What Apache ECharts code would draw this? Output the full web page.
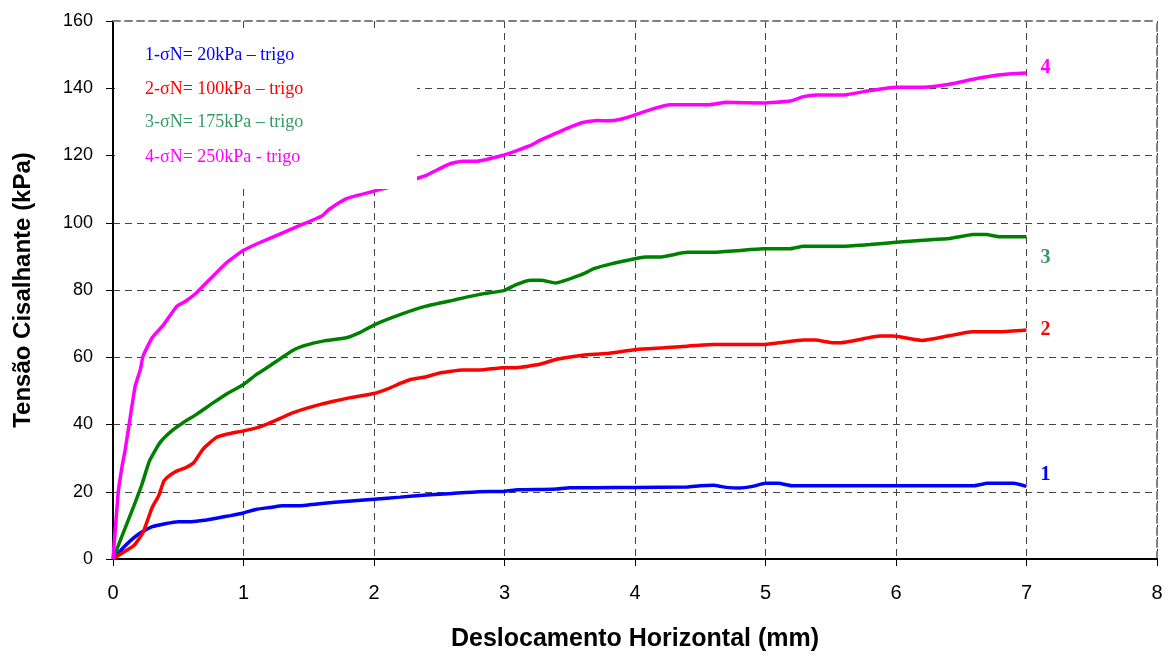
<!DOCTYPE html>
<html>
<head>
<meta charset="utf-8">
<script src="https://cdn.jsdelivr.net/npm/echarts@6/dist/echarts.min.js"></script>
<style>
  html, body { margin: 0; padding: 0; background: #fff; }
  #chart { width: 1168px; height: 657px; }
</style>
</head>
<body>
<div id="chart"></div>
<script>
// Displacement (mm) and shear stress (kPa) for each normal stress level
const s1X = [0, 0.1, 0.2, 0.3, 0.4, 0.5, 0.6, 0.7, 0.8, 0.9, 1.0, 1.1, 1.2, 1.3, 1.4, 1.5, 1.6, 1.8, 2.0, 2.2, 2.4, 2.6, 2.8, 3.0, 3.1, 3.3, 3.4, 3.5, 3.7, 4.0, 4.4, 4.5, 4.6, 4.7, 4.8, 4.9, 5.0, 5.1, 5.2, 5.4, 6.0, 6.6, 6.7, 6.9, 7.0];
const s1Y = [0, 4.2, 7.5, 9.6, 10.5, 11.1, 11.1, 11.5, 12.2, 12.9, 13.7, 14.8, 15.3, 15.8, 15.8, 16.1, 16.5, 17.2, 17.8, 18.4, 19.0, 19.5, 20.0, 20.1, 20.6, 20.7, 20.8, 21.2, 21.2, 21.3, 21.4, 21.8, 21.9, 21.3, 21.1, 21.6, 22.5, 22.5, 21.8, 21.8, 21.8, 21.8, 22.5, 22.5, 21.6];

const s2X = [0, 0.08, 0.16, 0.23, 0.30, 0.35, 0.39, 0.44, 0.49, 0.56, 0.62, 0.69, 0.79, 0.87, 1.0, 1.1, 1.18, 1.28, 1.38, 1.48, 1.59, 1.7, 1.82, 2.0, 2.1, 2.2, 2.28, 2.4, 2.51, 2.68, 2.81, 2.99, 3.09, 3.27, 3.4, 3.6, 3.78, 4.01, 4.22, 4.4, 4.6, 4.98, 5.1, 5.29, 5.38, 5.52, 5.57, 5.88, 5.98, 6.2, 6.59, 6.8, 7.0];
const s2Y = [0, 2, 4, 7.9, 15.3, 18.8, 23.2, 25.0, 26.2, 27.2, 28.7, 32.7, 36.1, 37.1, 38.1, 39.0, 40.1, 41.8, 43.5, 44.8, 46, 47, 48, 49.2, 50.5, 52.2, 53.4, 54.2, 55.4, 56.2, 56.2, 56.9, 56.9, 57.9, 59.4, 60.6, 61.1, 62.3, 62.8, 63.3, 63.8, 63.8, 64.3, 65.1, 65.1, 64.3, 64.3, 66.3, 66.3, 65.0, 67.6, 67.6, 68.1];

const s3X = [0, 0.08, 0.16, 0.22, 0.28, 0.36, 0.45, 0.54, 0.64, 0.77, 0.88, 1.0, 1.1, 1.2, 1.38, 1.48, 1.61, 1.79, 1.89, 2.01, 2.2, 2.4, 2.61, 2.81, 3.0, 3.09, 3.2, 3.28, 3.39, 3.59, 3.69, 3.81, 3.99, 4.08, 4.19, 4.4, 4.6, 4.78, 4.98, 5.19, 5.29, 5.6, 5.8, 6.0, 6.21, 6.41, 6.59, 6.69, 6.8, 7.0];
const s3Y = [0, 7.9, 15.8, 22, 29.2, 34.6, 38.1, 40.6, 43, 46.5, 49.3, 51.9, 54.9, 57.4, 62.1, 63.6, 64.8, 65.8, 67.3, 69.8, 72.7, 75.2, 77.0, 78.7, 79.9, 81.6, 82.9, 82.9, 82.1, 84.6, 86.4, 87.7, 89.2, 89.8, 89.8, 91.2, 91.2, 91.7, 92.3, 92.3, 93.0, 93.0, 93.5, 94.2, 94.8, 95.3, 96.5, 96.5, 95.8, 95.8];

const s4X = [0, 0.04, 0.07, 0.09, 0.13, 0.17, 0.21, 0.23, 0.3, 0.39, 0.49, 0.55, 0.64, 0.74, 0.87, 1.0, 1.13, 1.3, 1.45, 1.6, 1.66, 1.79, 1.99, 2.14, 2.3, 2.4, 2.58, 2.68, 2.79, 3.0, 3.09, 3.2, 3.27, 3.4, 3.48, 3.6, 3.71, 3.8, 3.89, 4.0, 4.13, 4.27, 4.57, 4.7, 4.98, 5.19, 5.29, 5.39, 5.6, 5.8, 6.0, 6.21, 6.41, 6.61, 6.8, 7.0];
const s4Y = [0, 19.8, 27.7, 31.7, 41.6, 51.4, 56.4, 60.3, 65.8, 69.8, 75.2, 76.5, 79.2, 83.1, 88.1, 91.8, 94.2, 97, 99.5, 102, 104.1, 107.2, 109.3, 110.8, 112.8, 114.1, 117.5, 118.3, 118.3, 120.2, 121.4, 123.0, 124.5, 126.7, 128.1, 129.8, 130.4, 130.3, 130.8, 132.1, 133.8, 135.1, 135.1, 135.8, 135.6, 136.2, 137.5, 138.0, 138.0, 139.3, 140.3, 140.3, 141.2, 142.8, 144.0, 144.5];

const seriesNames = ['1-σN= 20kPa – trigo', '2-σN= 100kPa – trigo', '3-σN= 175kPa – trigo', '4-σN= 250kPa - trigo'];
const endTags = ['1', '2', '3', '4'];
const xTitle = 'Deslocamento Horizontal (mm)';
const yTitle = 'Tensão Cisalhante (kPa)';

const lineColors = ['#0000ff', '#ff0000', '#008000', '#ff00ff'];
const textColors = ['#0000ff', '#ff0000', '#339966', '#ff00ff'];
const tagOffsets = [[0, -12], [0, 0], [0, 21], [0, -5]];

const xs = [s1X, s2X, s3X, s4X];
const ys = [s1Y, s2Y, s3Y, s4Y];

const gridDash = { color: '#444', width: 1, type: [7, 5] };
const frameDash = { color: '#808080', width: 2, type: [7, 5] };

const series = xs.map((xArr, i) => ({
  name: seriesNames[i],
  type: 'line',
  data: xArr.map((x, k) => [x, ys[i][k]]),
  showSymbol: false,
  symbol: 'none',
  smooth: 0.15,
  z: 2,
  lineStyle: { color: lineColors[i], width: 3.5 },
  endLabel: {
    show: true,
    formatter: endTags[i],
    distance: 14,
    offset: tagOffsets[i],
    color: textColors[i],
    fontFamily: 'Liberation Serif',
    fontWeight: 'bold',
    fontSize: 20
  }
}));

// legend panel: white box over the plot with coloured text lines
const legendTop = [56, 90, 123, 158];
const graphics = [{
  type: 'rect',
  z: 10,
  shape: { x: 115, y: 30, width: 302, height: 159 },
  style: { fill: '#fff' }
}].concat(seriesNames.map((name, i) => ({
  type: 'text',
  z: 11,
  left: 145,
  top: legendTop[i] - 10,
  style: {
    text: name,
    fill: textColors[i],
    fontFamily: 'Liberation Serif',
    fontSize: 18
  }
})));

const chart = echarts.init(document.getElementById('chart'));
chart.setOption({
  animation: false,
  backgroundColor: '#fff',
  grid: { left: 113, right: 11, top: 21, bottom: 97 },
  xAxis: [{
    type: 'value',
    min: 0, max: 8, interval: 1,
    name: xTitle,
    nameLocation: 'middle',
    nameGap: 68,
    nameTextStyle: { fontFamily: 'Liberation Sans', fontWeight: 'bold', fontSize: 25, color: '#000' },
    axisLine: { onZero: false, lineStyle: { color: '#000', width: 2 } },
    axisTick: { show: true, length: 7, lineStyle: { color: '#000', width: 1 } },
    axisLabel: { margin: 24, fontFamily: 'Liberation Sans Narrow, Liberation Sans', fontSize: 20, color: '#000' },
    splitLine: { show: true, lineStyle: gridDash }
  }, {
    type: 'value', position: 'top',
    min: 0, max: 8, interval: 1,
    axisLine: { show: true, onZero: false, lineStyle: frameDash },
    axisTick: { show: false }, axisLabel: { show: false }, splitLine: { show: false }
  }],
  yAxis: [{
    type: 'value',
    min: 0, max: 160, interval: 20,
    name: yTitle,
    nameLocation: 'middle',
    nameGap: 78,
    nameRotate: 90,
    nameTextStyle: { fontFamily: 'Liberation Sans', fontWeight: 'bold', fontSize: 24, color: '#000' },
    axisLine: { show: true, onZero: false, lineStyle: { color: '#000', width: 2 } },
    axisTick: { show: true, length: 7, lineStyle: { color: '#000', width: 1 } },
    axisLabel: { margin: 20, fontFamily: 'Liberation Sans', fontSize: 18, color: '#000' },
    splitLine: { show: true, lineStyle: gridDash }
  }, {
    type: 'value', position: 'right',
    min: 0, max: 160, interval: 20,
    axisLine: { show: true, onZero: false, lineStyle: frameDash },
    axisTick: { show: false }, axisLabel: { show: false }, splitLine: { show: false }
  }],
  graphic: graphics,
  series: series
});
</script>
</body>
</html>
